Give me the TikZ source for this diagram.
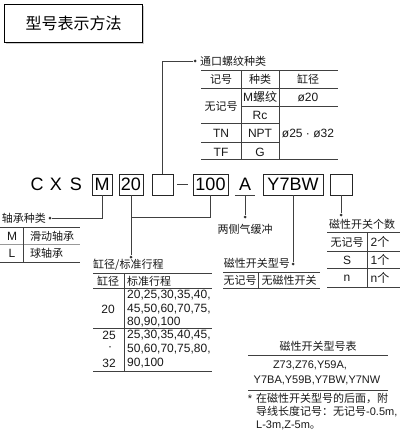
\documentclass[tikz,border=0pt]{standalone}
\usepackage{fontspec}
\setmainfont{Liberation Sans}
\newfontfamily\cjk{Noto Sans CJK SC}
\newcommand\zh[1]{{\cjk #1}}
\begin{document}
\begin{tikzpicture}[x=1pt,y=-1pt,
  t/.style={font=\fontsize{11}{13}\selectfont, inner sep=0pt, text=black!90},
  tl/.style={font=\fontsize{12}{14}\selectfont, inner sep=0pt, text=black!90},
  code/.style={font=\fontsize{18}{20}\selectfont, inner sep=0pt},
  cbox/.style={draw=black!85, line width=0.9pt, minimum height=21pt, inner sep=0pt, font=\fontsize{18}{20}\selectfont},
  conn/.style={draw=black!75, line width=0.8pt},
  rule/.style={draw=black!75, line width=0.8pt},
  dot/.style={circle, fill=black!80, inner sep=0pt, minimum size=3pt}]
\fill[white] (0,0) rectangle (410,436);
\useasboundingbox (0,0) rectangle (410,436);
% title
\fill[black!20] (6,6) rectangle (144,44);
\node[draw, line width=1.2pt, fill=white, minimum width=138pt, minimum height=38pt, anchor=north west, inner sep=0pt, font=\fontsize{16}{18}\selectfont] (title) at (4,4) {\zh{型号表示方法}};
% code row
\node[code] (c) at (37,184.5) {C};
\node[code] (x) at (56,184.5) {X};
\node[code] (s) at (76,184.5) {S};
\node[cbox, minimum width=20pt] (bm) at (102,184.5) {M};
\node[cbox, minimum width=24pt] (b20) at (131,184.5) {20};
\node[cbox, minimum width=21pt] (be1) at (162.5,184.5) {};
\node[cbox, minimum width=35pt] (b100) at (210.5,184.5) {100};
\node[code, minimum width=20pt, minimum height=21pt] (ba) at (245,184.5) {A};
\draw[rule] (ba.south west) -- (ba.south east);
\node[cbox, minimum width=60pt] (by) at (293,184.5) {Y7BW};
\node[cbox, minimum width=22pt] (be2) at (341,184.5) {};
\draw[rule] ([xshift=4pt]be1.east) -- ([xshift=-5pt]b100.west);
% connectors
\node[dot] (d1) at (195,61) {};
\node[t, anchor=west] (l1) at (200,61) {\zh{通口螺纹种类}};
\draw[conn] (be1.north) |- (d1);
\node[dot] (d2) at (50,218) {};
\node[t, anchor=east] (l2) at (46,218) {\zh{轴承种类}};
\draw[conn] (bm.south) |- (d2);
\node[dot] (d3) at (131,257) {};
\node[t, anchor=west] (l3) at (93,265) {\zh{缸径/标准行程}};
\draw[conn] (b20.south) -- (d3);
\coordinate (j) at (131,217);
\draw[conn] (b100.south) |- (j);
\node[dot] (d4) at (245,217) {};
\draw[conn] (ba.south) -- (d4);
\node[t] (l4) at (245,229) {\zh{两侧气缓冲}};
\node[dot] (d5) at (293,264) {};
\draw[conn] (by.south) -- (d5);
\node[t, anchor=east] (l5) at (290,263) {\zh{磁性开关型号}};
\node[dot] (d6) at (341,215) {};
\draw[conn] (be2.south) -- (d6);
\node[t] (l6) at (362,224) {\zh{磁性开关个数}};
% top table
\draw[rule] (201,70) -- (338,70);
\draw[rule] (201,88) -- (338,88);
\draw[rule] (241,106) -- (338,106);
\draw[rule] (201,123) -- (279,123);
\draw[rule] (201,142) -- (279,142);
\draw[rule] (201,159) -- (338,159);
\draw[rule] (241,70) -- (241,159);
\draw[rule] (279,70) -- (279,159);
\node[t] at (221,79) {\zh{记号}};
\node[t] at (260,79) {\zh{种类}};
\node[t] at (308,79) {\zh{缸径}};
\node[t] at (221,106) {\zh{无记号}};
\node[tl] at (260,97) {M\zh{螺纹}};
\node[tl] at (308,97) {ø20};
\node[tl] at (260,115) {Rc};
\node[tl] at (221,133) {TN};
\node[tl] at (260,133) {NPT};
\node[tl] at (308,133) {ø25 · ø32};
\node[tl] at (221,152) {TF};
\node[tl] at (260,152) {G};
% bearing table
\draw[rule] (0,227) -- (80,227);
\draw[rule, black!40] (0,244) -- (80,244);
\draw[rule] (0,262) -- (80,262);
\draw[rule] (23,227) -- (23,262);
\node[tl] at (12,236) {M};
\node[t, anchor=west] at (30,236) {\zh{滑动轴承}};
\node[tl] at (12,253) {L};
\node[t, anchor=west] at (30,253) {\zh{球轴承}};
% bore table
\draw[rule] (93,273) -- (212,273);
\draw[rule] (93,288) -- (212,288);
\draw[rule] (93,328) -- (212,328);
\draw[rule] (93,371) -- (212,371);
\draw[rule] (124,273) -- (124,371);
\node[t] at (108,281) {\zh{缸径}};
\node[t, anchor=west] at (127,281) {\zh{标准行程}};
\node[tl, anchor=west] at (127,295) {20,25,30,35,40,};
\node[tl, anchor=west] at (127,309) {45,50,60,70,75,};
\node[tl, anchor=west] at (127,322) {80,90,100};
\node[tl, anchor=east] at (115,309) {20};
\node[tl, anchor=west] at (127,335) {25,30,35,40,45,};
\node[tl, anchor=west] at (127,349) {50,60,70,75,80,};
\node[tl, anchor=west] at (127,363) {90,100};
\node[tl, anchor=east] at (116,335) {25};
\node[tl] at (110,349) {·};
\node[tl, anchor=east] at (116,363) {32};
% switch type table
\draw[rule] (223,272) -- (320,272);
\draw[rule] (223,288) -- (320,288);
\draw[rule] (258,272) -- (258,288);
\node[t] at (240,280) {\zh{无记号}};
\node[t] at (289,280) {\zh{无磁性开关}};
% count table
\draw[rule] (327,232) -- (400,232);
\draw[rule] (327,251) -- (400,251);
\draw[rule] (327,268) -- (400,268);
\draw[rule] (327,287) -- (400,287);
\draw[rule] (367,232) -- (367,287);
\node[t] at (347,242) {\zh{无记号}};
\node[tl] at (380,242) {2\zh{个}};
\node[tl] at (347,260) {S};
\node[tl] at (380,260) {1\zh{个}};
\node[tl] at (347,278) {n};
\node[tl] at (380,278) {n\zh{个}};
% note
\node[t] at (318,346) {\zh{磁性开关型号表}};
\draw[rule] (248,355) -- (388,355);
\node[t] at (310,365) {Z73,Z76,Y59A,};
\node[t] at (317,380) {Y7BA,Y59B,Y7BW,Y7NW};
\draw[rule] (248,390) -- (388,390);
\node[t] at (250,399) {*};
\node[t, anchor=west] at (256,398) {\zh{在磁性开关型号的后面，附}};
\node[t, anchor=west] at (256,412) {\zh{导线长度记号：无记号}-0.5m,};
\node[t, anchor=west] at (256,425) {L-3m,Z-5m\zh{。}};
\end{tikzpicture}
\end{document}
